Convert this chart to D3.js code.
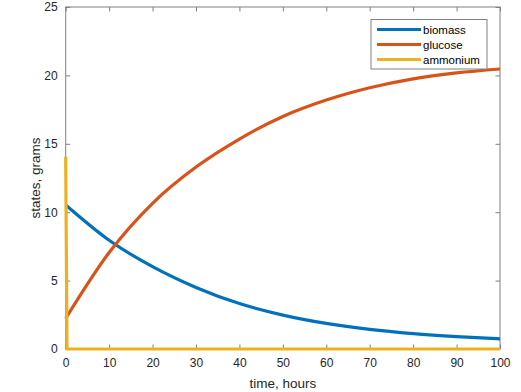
<!DOCTYPE html>
<html>
<head>
<meta charset="utf-8">
<script src="https://cdn.jsdelivr.net/npm/d3@7"></script>
<style>
  body { margin: 0; background: #fff; }
  svg { display: block; font-family: Arial, "Liberation Sans", Helvetica, sans-serif; }
</style>
</head>
<body>
<svg id="chart" width="521" height="392"></svg>
<script>
// ---- data ----
const seriesNames = ["biomass", "glucose", "ammonium"];
const seriesColors = ["#0072BD", "#D95319", "#EDB120"];

const biomassT = [0, 10, 20, 30, 40, 50, 60, 70, 80, 90, 100];
const biomassV = [10.53, 7.95, 6.02, 4.5, 3.32, 2.48, 1.87, 1.43, 1.12, 0.9, 0.74];

const glucoseT = [0, 10, 20, 30, 40, 50, 60, 70, 80, 90, 100];
const glucoseV = [2.24, 7.05, 10.65, 13.3, 15.35, 17.0, 18.2, 19.1, 19.75, 20.18, 20.47];

const ammoniumT = [0, 0.3, 100];
const ammoniumV = [14.05, 0, 0];

const xTicks = [0, 10, 20, 30, 40, 50, 60, 70, 80, 90, 100];
const yTicks = [0, 5, 10, 15, 20, 25];
const xLabel = "time, hours";
const yLabel = "states, grams";

// ---- layout ----
const svg = d3.select("#chart");
const mLeft = 65.7, mRight = 500, mTop = 7, mBottom = 349;
const x = d3.scaleLinear().domain([0, 100]).range([mLeft, mRight]);
const y = d3.scaleLinear().domain([0, 25]).range([mBottom, mTop]);

const axisColor = "#808080";
const textColor = "#262626";

// frame
svg.append("rect")
  .attr("x", mLeft).attr("y", mTop)
  .attr("width", mRight - mLeft).attr("height", mBottom - mTop)
  .attr("fill", "none").attr("stroke", axisColor).attr("stroke-width", 1);

const tickLen = 4.5;
function styleAxis(g) {
  g.select(".domain").remove();
  g.selectAll(".tick line").attr("stroke", axisColor);
  g.selectAll(".tick text").attr("fill", textColor).attr("font-size", 12)
   .attr("font-family", "Arial, 'Liberation Sans', sans-serif");
}

// bottom axis (ticks inward)
svg.append("g").attr("transform", `translate(0,${mBottom})`)
  .call(d3.axisBottom(x).tickValues(xTicks).tickSizeInner(-tickLen).tickSizeOuter(0).tickPadding(9))
  .call(styleAxis);
// top axis ticks only
svg.append("g").attr("transform", `translate(0,${mTop})`)
  .call(d3.axisTop(x).tickValues(xTicks).tickSizeInner(-tickLen).tickSizeOuter(0).tickFormat(""))
  .call(styleAxis);
// left axis
svg.append("g").attr("transform", `translate(${mLeft},0)`)
  .call(d3.axisLeft(y).tickValues(yTicks).tickSizeInner(-tickLen).tickSizeOuter(0).tickPadding(8))
  .call(styleAxis);
// right axis ticks only
svg.append("g").attr("transform", `translate(${mRight},0)`)
  .call(d3.axisRight(y).tickValues(yTicks).tickSizeInner(-tickLen).tickSizeOuter(0).tickFormat(""))
  .call(styleAxis);

// axis labels
svg.append("text")
  .attr("x", (mLeft + mRight) / 2).attr("y", 388)
  .attr("text-anchor", "middle").attr("font-size", 13.5).attr("fill", textColor)
  .text(xLabel);
svg.append("text")
  .attr("transform", `translate(40,${(mTop + mBottom) / 2}) rotate(-90)`)
  .attr("text-anchor", "middle").attr("font-size", 13.5).attr("fill", textColor)
  .text(yLabel);

// lines
const lineSmooth = d3.line().x(d => x(d[0])).y(d => y(d[1])).curve(d3.curveMonotoneX);
const lineStraight = d3.line().x(d => x(d[0])).y(d => y(d[1]));
const series = [
  { pts: d3.zip(biomassT, biomassV), gen: lineSmooth },
  { pts: d3.zip(glucoseT, glucoseV), gen: lineSmooth },
  { pts: d3.zip(ammoniumT, ammoniumV), gen: lineStraight }
];
series.forEach((s, i) => {
  svg.append("path")
    .attr("d", s.gen(s.pts))
    .attr("fill", "none")
    .attr("stroke", seriesColors[i])
    .attr("stroke-width", 3.2)
    .attr("stroke-linejoin", "round");
});

// legend
const lg = svg.append("g");
lg.append("rect")
  .attr("x", 371).attr("y", 19.5).attr("width", 116).attr("height", 49.5)
  .attr("fill", "#fff").attr("stroke", axisColor).attr("stroke-width", 1);
seriesNames.forEach((name, i) => {
  const cy = 29.5 + i * 15;
  lg.append("line")
    .attr("x1", 377).attr("x2", 421).attr("y1", cy).attr("y2", cy)
    .attr("stroke", seriesColors[i]).attr("stroke-width", 3.2);
  lg.append("text")
    .attr("x", 423).attr("y", cy + 4)
    .attr("font-size", 11.5).attr("fill", "#000")
    .text(name);
});
</script>
</body>
</html>
